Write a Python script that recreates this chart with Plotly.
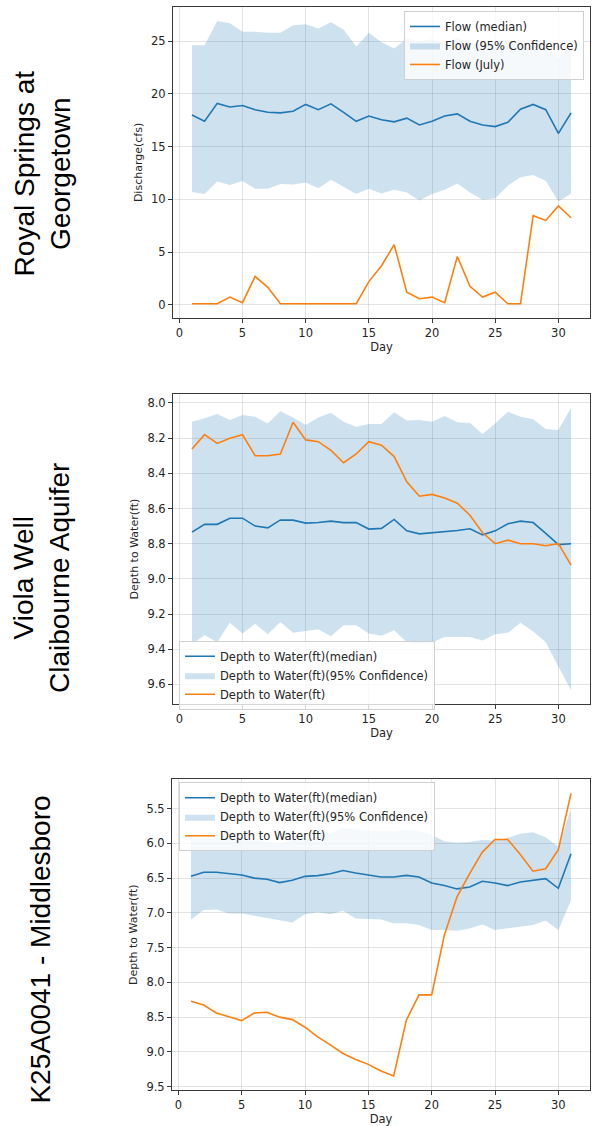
import plotly.graph_objects as go

days = list(range(1, 32))

# --- Royal Springs at Georgetown (discharge, cfs)
rs_median = [18.0, 17.4, 19.1, 18.75, 18.9, 18.5, 18.25, 18.2, 18.35, 19.0, 18.5, 19.05, 18.25, 17.4, 17.9,
             17.55, 17.35, 17.7, 17.05, 17.4, 17.9, 18.1, 17.4, 17.05, 16.9, 17.3, 18.55, 19.0, 18.5, 16.25, 18.2]
rs_upper = [24.6, 24.6, 26.9, 26.7, 25.9, 25.9, 25.8, 25.8, 26.5, 26.6, 26.2, 26.8, 26.1, 24.5, 25.8,
            24.9, 24.3, 25.25, 25.0, 25.2, 24.8, 25.3, 24.9, 24.6, 24.8, 25.0, 24.7, 24.9, 24.5, 23.4, 24.6]
rs_lower = [10.7, 10.5, 11.7, 11.35, 11.75, 11.0, 11.0, 11.45, 11.4, 11.6, 11.05, 11.85, 11.2, 10.5, 11.0,
            10.55, 10.9, 10.65, 9.9, 10.5, 10.9, 11.5, 10.65, 9.95, 10.1, 11.3, 12.1, 12.3, 11.75, 9.8, 10.55]
rs_july = [0.1, 0.1, 0.1, 0.73, 0.2, 2.7, 1.65, 0.1, 0.1, 0.1, 0.1, 0.1, 0.1, 0.1, 2.2,
           3.7, 5.7, 1.2, 0.57, 0.73, 0.2, 4.58, 1.75, 0.73, 1.2, 0.1, 0.1, 8.45, 8.0, 9.37, 8.25]

# --- Viola Well, Claibourne Aquifer (depth to water, ft)
vw_median = [8.734, 8.69, 8.69, 8.655, 8.655, 8.70, 8.71, 8.665, 8.666, 8.683, 8.68, 8.672, 8.68, 8.68, 8.717,
             8.713, 8.662, 8.727, 8.744, 8.738, 8.732, 8.725, 8.715, 8.75, 8.727, 8.687, 8.672, 8.68, 8.742, 8.805, 8.80]
vw_upper = [8.106, 8.087, 8.063, 8.097, 8.068, 8.078, 8.116, 8.047, 8.082, 8.125, 8.083, 8.055, 8.106, 8.135, 8.12,
            8.12, 8.053, 8.10, 8.097, 8.106, 8.074, 8.11, 8.114, 8.176, 8.116, 8.05, 8.078, 8.093, 8.148, 8.154, 8.027]
vw_lower = [9.37, 9.32, 9.36, 9.25, 9.31, 9.255, 9.315, 9.245, 9.307, 9.296, 9.287, 9.326, 9.264, 9.264, 9.311,
            9.324, 9.292, 9.36, 9.372, 9.362, 9.33, 9.33, 9.33, 9.35, 9.315, 9.307, 9.25, 9.30, 9.36, 9.50, 9.634]
vw_july = [8.262, 8.18, 8.23, 8.20, 8.18, 8.30, 8.30, 8.29, 8.11, 8.21, 8.22, 8.27, 8.34, 8.29, 8.22,
           8.24, 8.305, 8.448, 8.53, 8.52, 8.54, 8.57, 8.638, 8.738, 8.80, 8.78, 8.80, 8.80, 8.812, 8.80, 8.922]

# --- K25A0041 - Middlesboro (depth to water, ft)
km_median = [6.474, 6.416, 6.416, 6.436, 6.455, 6.50, 6.517, 6.564, 6.53, 6.474, 6.464, 6.436, 6.39, 6.426, 6.46,
             6.483, 6.483, 6.46, 6.483, 6.57, 6.607, 6.655, 6.627, 6.545, 6.57, 6.607, 6.555, 6.53, 6.507, 6.646, 6.15]
km_upper = [5.95, 5.93, 5.92, 5.93, 5.95, 5.95, 5.97, 6.0, 5.95, 5.92, 5.90, 5.85, 5.78, 5.80, 5.82,
            5.82, 5.83, 5.80, 5.82, 5.88, 5.97, 5.99, 5.98, 5.95, 5.96, 5.92, 5.86, 5.84, 5.91, 6.05, 5.50]
km_lower = [7.094, 6.96, 6.95, 7.01, 7.01, 7.04, 7.08, 7.11, 7.137, 7.018, 6.99, 7.02, 6.97, 7.08, 7.09,
            7.094, 7.15, 7.15, 7.175, 7.247, 7.247, 7.257, 7.223, 7.166, 7.247, 7.223, 7.2, 7.175, 7.11, 7.247, 6.817]
km_july = [8.273, 8.326, 8.44, 8.50, 8.55, 8.44, 8.43, 8.50, 8.536, 8.645, 8.784, 8.90, 9.023, 9.11, 9.18,
           9.276, 9.347, 8.545, 8.18, 8.18, 7.32, 6.77, 6.436, 6.125, 5.944, 5.944, 6.16, 6.40, 6.364, 6.09, 5.28]

x_ticks = [0, 5, 10, 15, 20, 25, 30]

panels = [
    dict(median=rs_median, upper=rs_upper, lower=rs_lower, obs=rs_july,
         names=["Flow (median)", "Flow (95% Confidence)", "Flow (July)"],
         ytitle="Discharge(cfs)", reverse=False, yticks=[0, 5, 10, 15, 20, 25], fmt="d",
         label="Royal Springs at<br>Georgetown"),
    dict(median=vw_median, upper=vw_upper, lower=vw_lower, obs=vw_july,
         names=["Depth to Water(ft)(median)", "Depth to Water(ft)(95% Confidence)", "Depth to Water(ft)"],
         ytitle="Depth to Water(ft)", reverse=True,
         yticks=[8.0, 8.2, 8.4, 8.6, 8.8, 9.0, 9.2, 9.4, 9.6], fmt=".1f",
         label="Viola Well<br>Claibourne Aquifer"),
    dict(median=km_median, upper=km_upper, lower=km_lower, obs=km_july,
         names=["Depth to Water(ft)(median)", "Depth to Water(ft)(95% Confidence)", "Depth to Water(ft)"],
         ytitle="Depth to Water(ft)", reverse=True,
         yticks=[5.5, 6.0, 6.5, 7.0, 7.5, 8.0, 8.5, 9.0, 9.5], fmt=".1f",
         label="K25A0041 - Middlesboro"),
]

W, H = 592, 1126
# pixel geometry of plotting areas (left, right, top, bottom)
boxes = [(173, 590, 7, 319), (173, 590, 395, 707), (172, 590, 782, 1094)]
legend_pos = [dict(x=584, y=11, xanchor="right"), dict(x=179, y=643, xanchor="left"),
              dict(x=179, y=785, xanchor="left")]
label_pos = [(42, 174), (42, 580), (41, 953)]

BLUE = "#1f77b4"
ORANGE = "#ff7f0e"
BAND = "rgba(31,119,180,0.22)"
FONT = "DejaVu Sans"

fig = go.Figure()
layout = dict(width=W, height=H, margin=dict(l=0, r=0, t=0, b=0),
              paper_bgcolor="white", plot_bgcolor="white", showlegend=True,
              annotations=[])

for i, p in enumerate(panels):
    k = "" if i == 0 else str(i + 1)
    xa, ya = "x" + k, "y" + k
    lg = "legend" + k
    fig.add_trace(go.Scatter(x=days, y=p["upper"], mode="lines", line=dict(width=0, color=BAND),
                             showlegend=False, hoverinfo="skip", xaxis=xa, yaxis=ya, legend=lg))
    fig.add_trace(go.Scatter(x=days, y=p["lower"], mode="lines", line=dict(width=0, color=BAND),
                             fill="tonexty", fillcolor=BAND, name=p["names"][1], legendrank=2,
                             xaxis=xa, yaxis=ya, legend=lg))
    fig.add_trace(go.Scatter(x=days, y=p["median"], mode="lines", line=dict(width=1.6, color=BLUE),
                             name=p["names"][0], legendrank=1, xaxis=xa, yaxis=ya, legend=lg))
    fig.add_trace(go.Scatter(x=days, y=p["obs"], mode="lines", line=dict(width=1.6, color=ORANGE),
                             name=p["names"][2], legendrank=3, xaxis=xa, yaxis=ya, legend=lg))

    allv = p["upper"] + p["lower"] + p["median"] + p["obs"]
    lo, hi = min(allv), max(allv)
    m = (hi - lo) * 0.05
    yr = [lo - m, hi + m]
    if p["reverse"]:
        yr = yr[::-1]
    l, r, t, b = boxes[i]
    common = dict(showline=True, mirror=True, linecolor="#3a3a3a", linewidth=1,
                  ticks="outside", ticklen=4, tickcolor="#3a3a3a",
                  showgrid=True, gridcolor="rgba(176,176,176,0.35)", gridwidth=1,
                  zeroline=False, tickfont=dict(family=FONT, size=11.5, color="#262626"))
    layout["xaxis" + k] = dict(common, domain=[l / W, r / W], anchor=ya, range=[-0.5, 32.5],
                               tickvals=x_ticks,
                               title=dict(text="Day", font=dict(family=FONT, size=11.5, color="#262626"),
                                          standoff=2))
    layout["yaxis" + k] = dict(common, domain=[1 - b / H, 1 - t / H], anchor=xa, range=yr,
                               tickvals=p["yticks"], tickformat=p["fmt"],
                               title=dict(text=p["ytitle"], font=dict(family=FONT, size=11, color="#262626"),
                                          standoff=6))
    lp = legend_pos[i]
    layout[lg] = dict(x=lp["x"] / W, y=1 - lp["y"] / H, xanchor=lp["xanchor"], yanchor="top",
                      xref="paper", yref="paper",
                      bgcolor="rgba(255,255,255,0.8)", bordercolor="#d0d0d0", borderwidth=1,
                      font=dict(family=FONT, size=11.5, color="#262626"), traceorder="normal",
                      itemwidth=30, tracegroupgap=0)
    lx, ly = label_pos[i]
    layout["annotations"].append(dict(text=p["label"], x=lx / W, y=1 - ly / H, xref="paper", yref="paper",
                                      xanchor="center", yanchor="middle", textangle=-90, showarrow=False,
                                      font=dict(family="Liberation Sans", size=28, color="black")))

fig.update_layout(**layout)
fig.write_html("out.html", config={"displayModeBar": False},
               post_script="document.body.style.margin='0';document.body.style.overflow='hidden';")
